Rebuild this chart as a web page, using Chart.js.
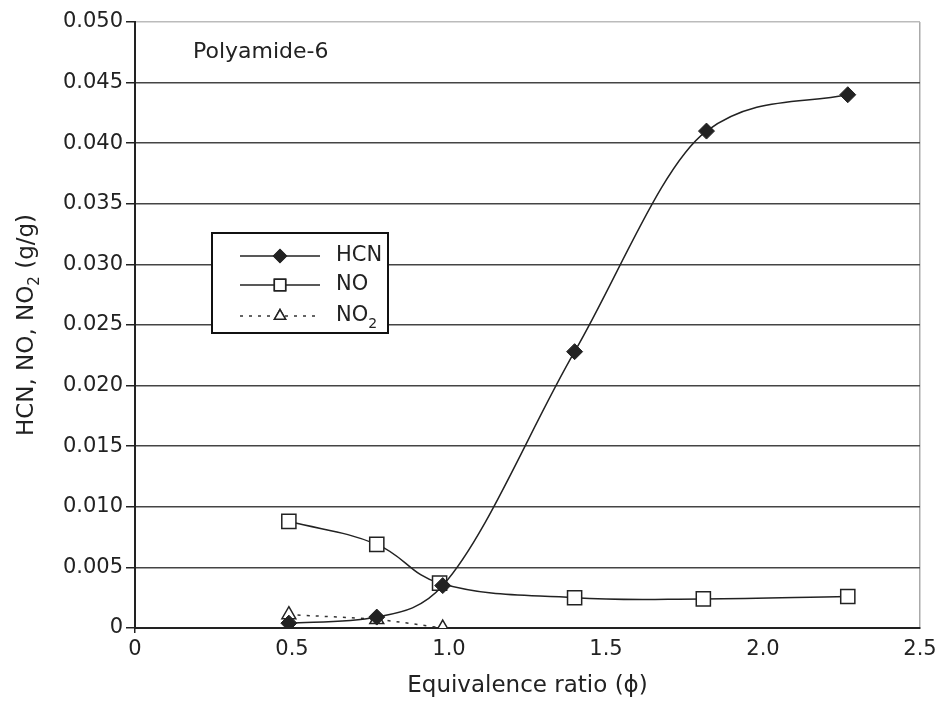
<!DOCTYPE html>
<html>
<head>
<meta charset="utf-8">
<script src="https://cdn.jsdelivr.net/npm/chart.js"></script>
<style>
  html, body { margin: 0; padding: 0; background: #fff; }
  #wrap { width: 941px; height: 704px; }
</style>
</head>
<body>
<div id="wrap"><canvas id="chart" width="941" height="704"></canvas></div>
<script>
// values
const phiHCN = [0.49, 0.77, 0.98, 1.40, 1.82, 2.27];
const hcn = [0.0004, 0.0009, 0.0035, 0.0228, 0.0410, 0.0440];
const phiNO = [0.49, 0.77, 0.97, 1.40, 1.81, 2.27];
const no = [0.0088, 0.0069, 0.0037, 0.0025, 0.0024, 0.0026];
const phiNO2 = [0.49, 0.77, 0.98];
const no2 = [0.0011, 0.0007, 0.0000];
const xTicks = [0, 0.5, 1.0, 1.5, 2.0, 2.5];
const yTicks = [0, 0.005, 0.010, 0.015, 0.020, 0.025, 0.030, 0.035, 0.040, 0.045, 0.050];

const FONT = '"DejaVu Sans", Arial, sans-serif';
Chart.defaults.font.family = FONT;
Chart.defaults.color = '#222';

function pts(xs, ys) {
  return xs.map((x, i) => ({ x: x, y: ys[i] }));
}

// legend box, label and y title drawn on top
const extras = {
  id: 'extras',
  afterDraw(chart) {
    const ctx = chart.ctx;
    const area = chart.chartArea;
    ctx.save();
    ctx.fillStyle = '#222';
    ctx.font = '22px ' + FONT;
    ctx.textBaseline = 'middle';
    ctx.fillText('Polyamide-6', 193, 52);

    // y axis title with subscript
    ctx.save();
    ctx.translate(27, (area.top + area.bottom) / 2);
    ctx.rotate(-Math.PI / 2);
    const p1 = 'HCN, NO, NO', p2 = '2', p3 = ' (g/g)';
    ctx.font = '23px ' + FONT;
    const w1 = ctx.measureText(p1).width, w3 = ctx.measureText(p3).width;
    ctx.font = '15px ' + FONT;
    const w2 = ctx.measureText(p2).width;
    const x0 = -(w1 + w2 + w3) / 2;
    ctx.font = '23px ' + FONT;
    ctx.fillText(p1, x0, 0);
    ctx.font = '15px ' + FONT;
    ctx.fillText(p2, x0 + w1, 8);
    ctx.font = '23px ' + FONT;
    ctx.fillText(p3, x0 + w1 + w2, 0);
    ctx.restore();

    const bx = 212, by = 233, bw = 176, bh = 100;
    ctx.fillStyle = '#fff';
    ctx.fillRect(bx, by, bw, bh);
    ctx.strokeStyle = '#111';
    ctx.lineWidth = 2;
    ctx.strokeRect(bx, by, bw, bh);

    const rows = [
      { label: 'HCN', y: 256 },
      { label: 'NO', y: 285 },
      { label: 'NO', sub: '2', y: 316 }
    ];
    chart.data.datasets.forEach((ds, i) => {
      const r = rows[i];
      ctx.strokeStyle = ds.borderColor;
      ctx.lineWidth = 1.5;
      ctx.setLineDash(ds.borderDash || []);
      ctx.beginPath();
      ctx.moveTo(240, r.y);
      ctx.lineTo(320, r.y);
      ctx.stroke();
      ctx.setLineDash([]);
      Chart.helpers.drawPoint(ctx, {
        pointStyle: ds.pointStyle,
        radius: ds.pointRadius * 0.8,
        borderWidth: ds.pointBorderWidth
      }, 280, r.y);
      ctx.fillStyle = ds.pointBackgroundColor;
      ctx.strokeStyle = ds.pointBorderColor;
      ctx.lineWidth = ds.pointBorderWidth;
      ctx.fill();
      ctx.stroke();
      ctx.fillStyle = '#222';
      ctx.font = '21px ' + FONT;
      ctx.fillText(r.label, 336, r.y);
      if (r.sub) {
        const w = ctx.measureText(r.label).width;
        ctx.font = '14px ' + FONT;
        ctx.fillText(r.sub, 336 + w, r.y + 8);
      }
    });
    ctx.restore();
  }
};

new Chart(document.getElementById('chart'), {
  type: 'scatter',
  data: {
    datasets: [
      {
        label: 'HCN',
        data: pts(phiHCN, hcn),
        showLine: true,
        cubicInterpolationMode: 'monotone',
        borderColor: '#222',
        borderWidth: 1.5,
        pointStyle: 'rectRot',
        pointRadius: 8,
        pointBackgroundColor: '#222',
        pointBorderColor: '#222',
        pointBorderWidth: 1
      },
      {
        label: 'NO',
        data: pts(phiNO, no),
        showLine: true,
        tension: 0.4,
        borderColor: '#222',
        borderWidth: 1.5,
        pointStyle: 'rect',
        pointRadius: 10,
        pointBackgroundColor: '#fff',
        pointBorderColor: '#222',
        pointBorderWidth: 1.5
      },
      {
        label: 'NO2',
        data: pts(phiNO2, no2),
        showLine: true,
        tension: 0.3,
        borderColor: '#333',
        borderWidth: 1.5,
        borderDash: [3, 6],
        pointStyle: 'triangle',
        pointRadius: 8,
        pointBackgroundColor: '#fff',
        pointBorderColor: '#222',
        pointBorderWidth: 1.5
      }
    ]
  },
  options: {
    responsive: false,
    animation: false,
    layout: { padding: { top: 22, right: 21, left: 0, bottom: 0 } },
    plugins: {
      legend: { display: false },
      tooltip: { enabled: false }
    },
    scales: {
      x: {
        type: 'linear',
        min: 0,
        max: 2.5,
        afterBuildTicks: s => { s.ticks = xTicks.map(v => ({ value: v })); },
        afterFit: s => { s.height = 76; },
        ticks: {
          font: { size: 21 },
          padding: 4,
          callback: v => (v === 0 ? '0' : v.toFixed(1))
        },
        grid: {
          tickLength: 5,
          lineWidth: 1.5,
          color: c => (c.tick && c.tick.value === 2.5 ? '#aaa' : 'rgba(0,0,0,0)'),
          tickColor: c => (c.tick && c.tick.value === 0 ? '#222' : 'rgba(0,0,0,0)')
        },
        border: { color: '#222', width: 2 },
        title: {
          display: true,
          text: 'Equivalence ratio (\u03d5)',
          font: { size: 23 },
          padding: { top: 2 }
        }
      },
      y: {
        type: 'linear',
        min: 0,
        max: 0.05,
        afterBuildTicks: s => { s.ticks = yTicks.map(v => ({ value: v })); },
        afterFit: s => { s.width = 135; },
        ticks: {
          font: { size: 21 },
          padding: 3,
          callback: v => (v === 0 ? '0' : v.toFixed(3))
        },
        grid: {
          tickLength: 9,
          lineWidth: 1.5,
          color: c => (c.tick && c.tick.value === 0.05 ? '#bbb' : '#444'),
          tickColor: '#222'
        },
        border: { color: '#222', width: 2 }
      }
    }
  },
  plugins: [extras]
});
</script>
</body>
</html>
